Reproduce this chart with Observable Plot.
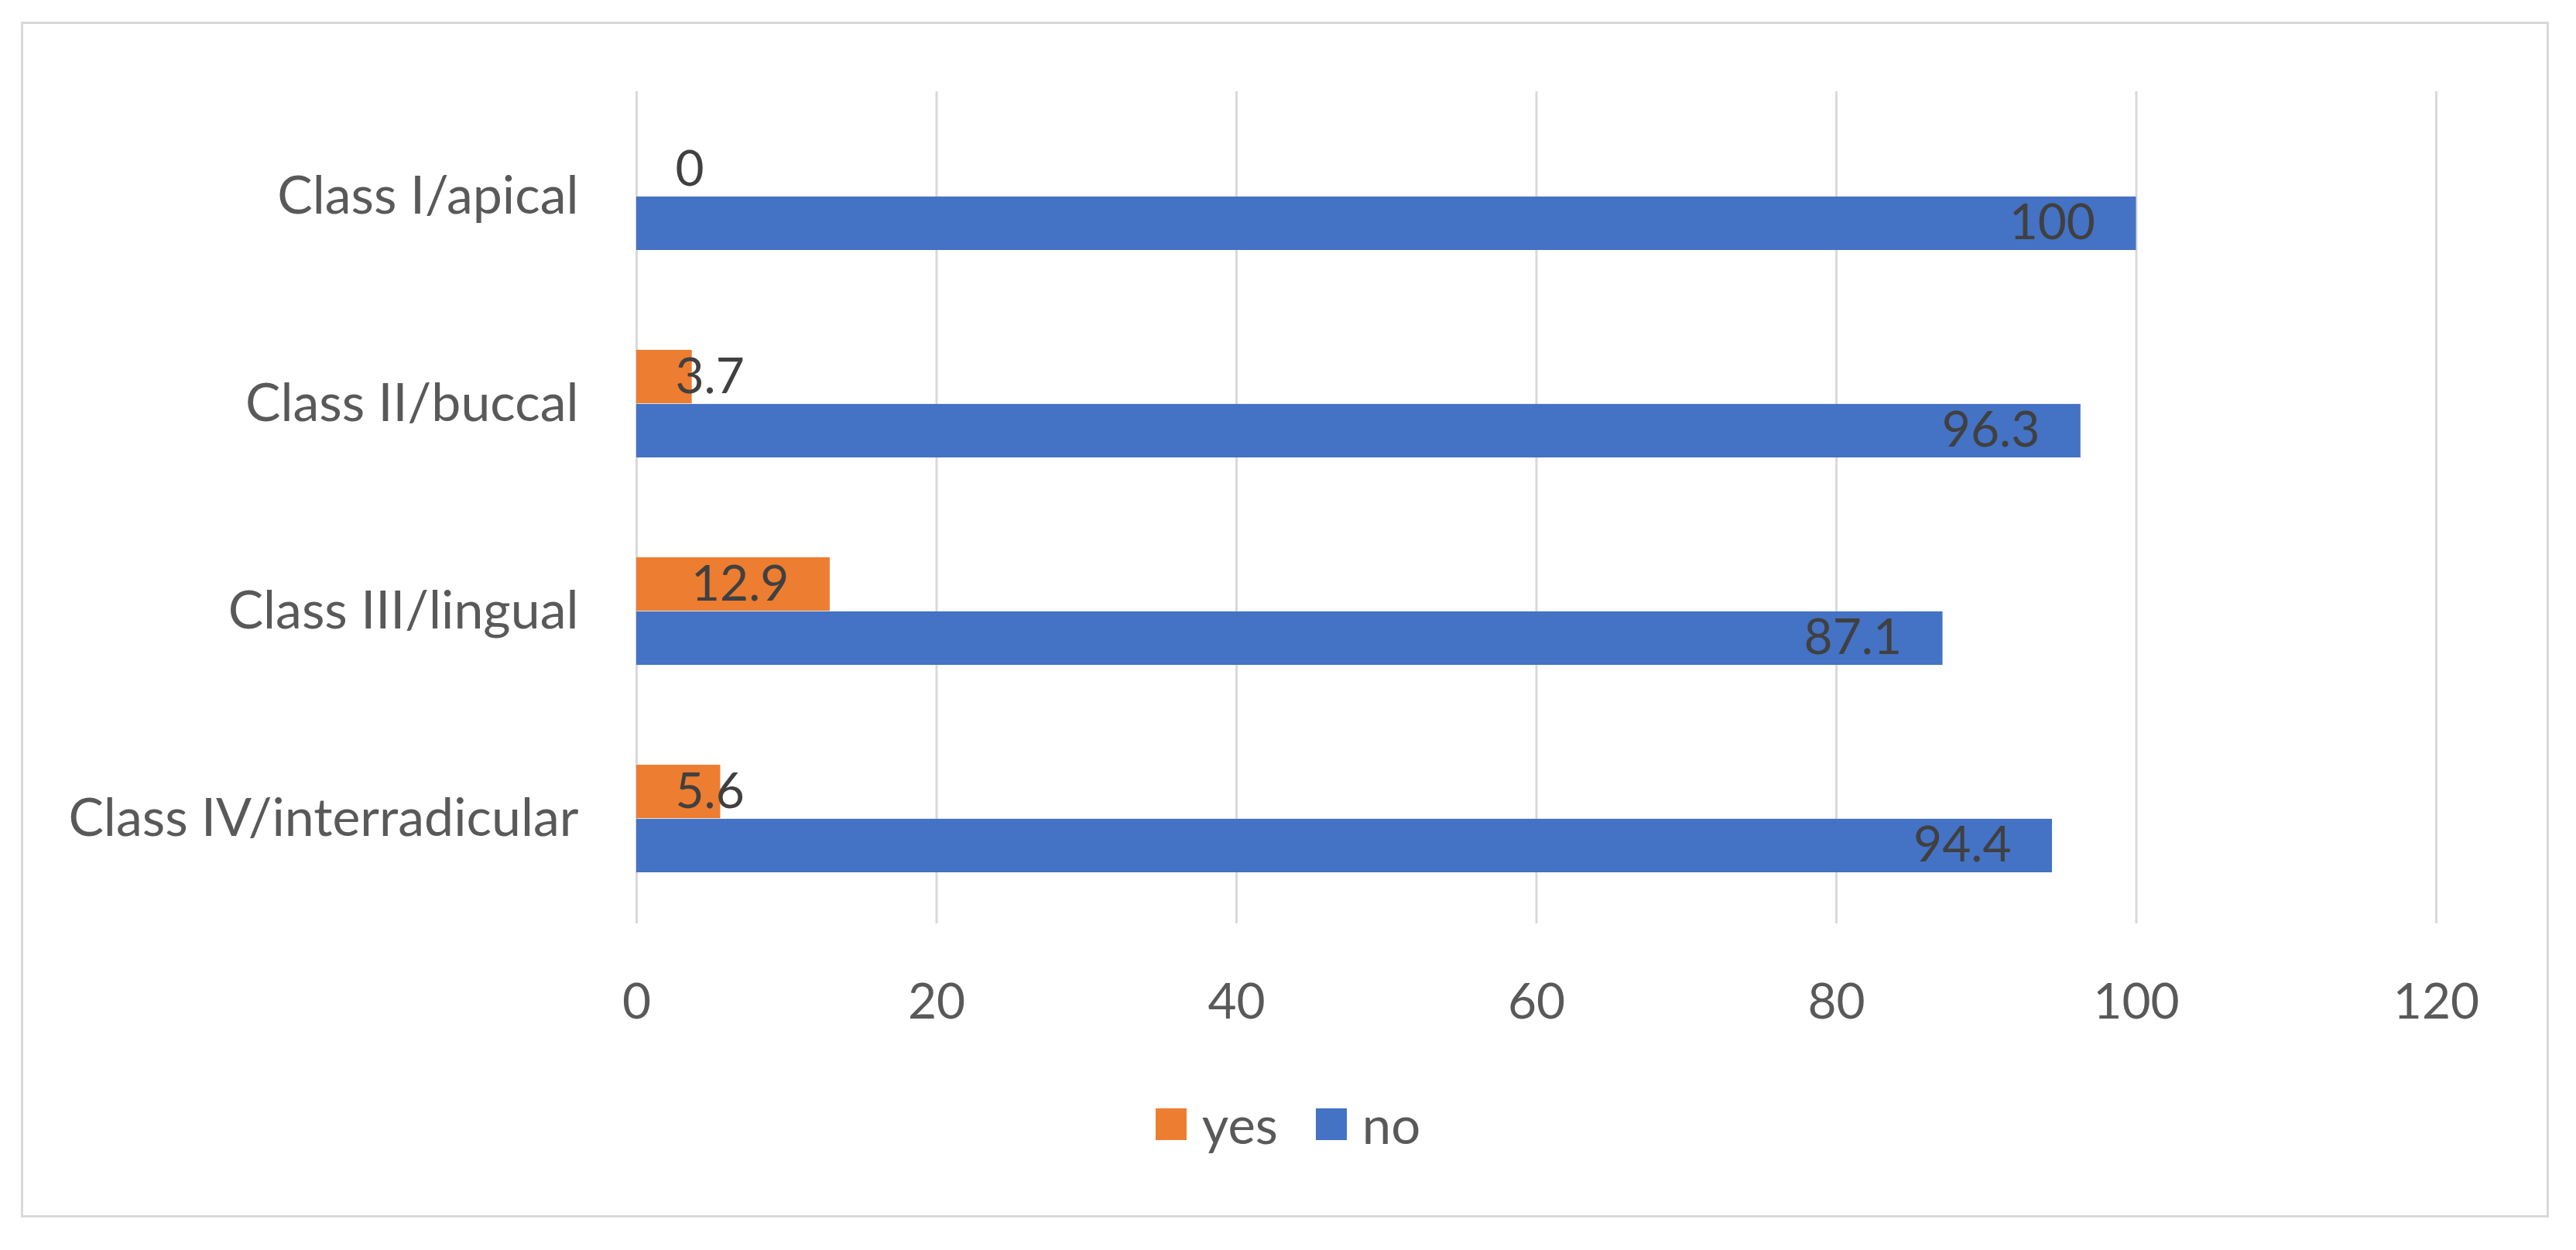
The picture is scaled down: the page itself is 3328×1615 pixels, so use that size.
<!DOCTYPE html>
<html>
<head>
<meta charset="utf-8">
<script src="https://cdn.jsdelivr.net/npm/d3@7"></script>
<script src="https://cdn.jsdelivr.net/npm/@observablehq/plot@0.6"></script>
<style>
  html, body { margin: 0; padding: 0; background: #ffffff; }
  body { width: 3328px; height: 1615px; position: relative; overflow: hidden; font-family: Lato, "Open Sans", sans-serif; }
  #frame { position: absolute; left: 27px; top: 28px; width: 3266px; height: 1545px; border: 3px solid #d9d9d9; box-sizing: border-box; pointer-events: none; }
  #chart { position: absolute; left: 0; top: 0; }
  #legend { position: absolute; left: 0; top: 1422px; width: 3328px; height: 60px; display: flex; justify-content: center; align-items: center; font-size: 67px; color: #595959; }
  .item { display: flex; align-items: center; }
  .item + .item { margin-left: 49px; }
  .sw { display: inline-block; width: 40px; height: 41px; margin-right: 20px; }
</style>
</head>
<body>
<div id="chart"></div>
<div id="legend"></div>
<div id="frame"></div>
<script>
const categories = ["Class I/apical", "Class II/buccal", "Class III/lingual", "Class IV/interradicular"];
const yesValues = [0, 3.7, 12.9, 5.6];
const noValues = [100, 96.3, 87.1, 94.4];
const series = ["yes", "no"];
const seriesColors = ["#ED7D31", "#4472C4"];
const xTicks = [0, 20, 40, 60, 80, 100, 120];

const yesData = categories.map((c, i) => ({category: c, series: "yes", value: yesValues[i]}));
const noData = categories.map((c, i) => ({category: c, series: "no", value: noValues[i]}));

const W = 3328, H = 1360;
const mt = 118, mb = 167, ml = 822, mr = 181;
const padIn = 0.48;
const bw = (H - mt - mb) / categories.length * (1 - padIn);
const half = bw / 2;
const fs = 64;

const chart = Plot.plot({
  width: W,
  height: H,
  marginTop: mt,
  marginBottom: mb,
  marginLeft: ml,
  marginRight: mr,
  style: {fontFamily: "Lato, 'Open Sans', sans-serif", fontSize: fs + "px", color: "#595959", background: "transparent"},
  x: {domain: [0, 120], ticks: xTicks, label: null},
  y: {domain: categories, paddingInner: padIn, paddingOuter: padIn / 2, label: null},
  color: {domain: series, range: seriesColors},
  marks: [
    Plot.ruleX(xTicks, {stroke: "#d9d9d9", strokeWidth: 3}),
    Plot.barX(yesData, {x: "value", y: "category", fill: "series", insetBottom: half}),
    Plot.barX(noData, {x: "value", y: "category", fill: "series", insetTop: half}),
    Plot.text(noData, {x: "value", y: "category", text: d => String(d.value), textAnchor: "end", dx: -53, dy: half / 2, fill: "#404040", fontSize: fs}),
    Plot.text(yesData.filter(d => d.value >= 8), {x: "value", y: "category", text: d => String(d.value), textAnchor: "end", dx: -53, dy: -half / 2, fill: "#404040", fontSize: fs}),
    Plot.text(yesData.filter(d => d.value < 8), {x: 0, y: "category", text: d => String(d.value), textAnchor: "start", dx: 50, dy: -half / 2, fill: "#404040", fontSize: fs}),
    Plot.axisX({ticks: xTicks, tickSize: 0, tickPadding: 77, fontSize: fs, fill: "#595959", label: null}),
    Plot.axisY({tickSize: 0, tickPadding: 75, fontSize: 68, fill: "#595959", label: null})
  ]
});
document.getElementById("chart").appendChild(chart);

const legend = d3.select("#legend");
series.forEach((s, i) => {
  const item = legend.append("div").attr("class", "item");
  item.append("span").attr("class", "sw").style("background", seriesColors[i]);
  item.append("span").text(s);
});
</script>
</body>
</html>
